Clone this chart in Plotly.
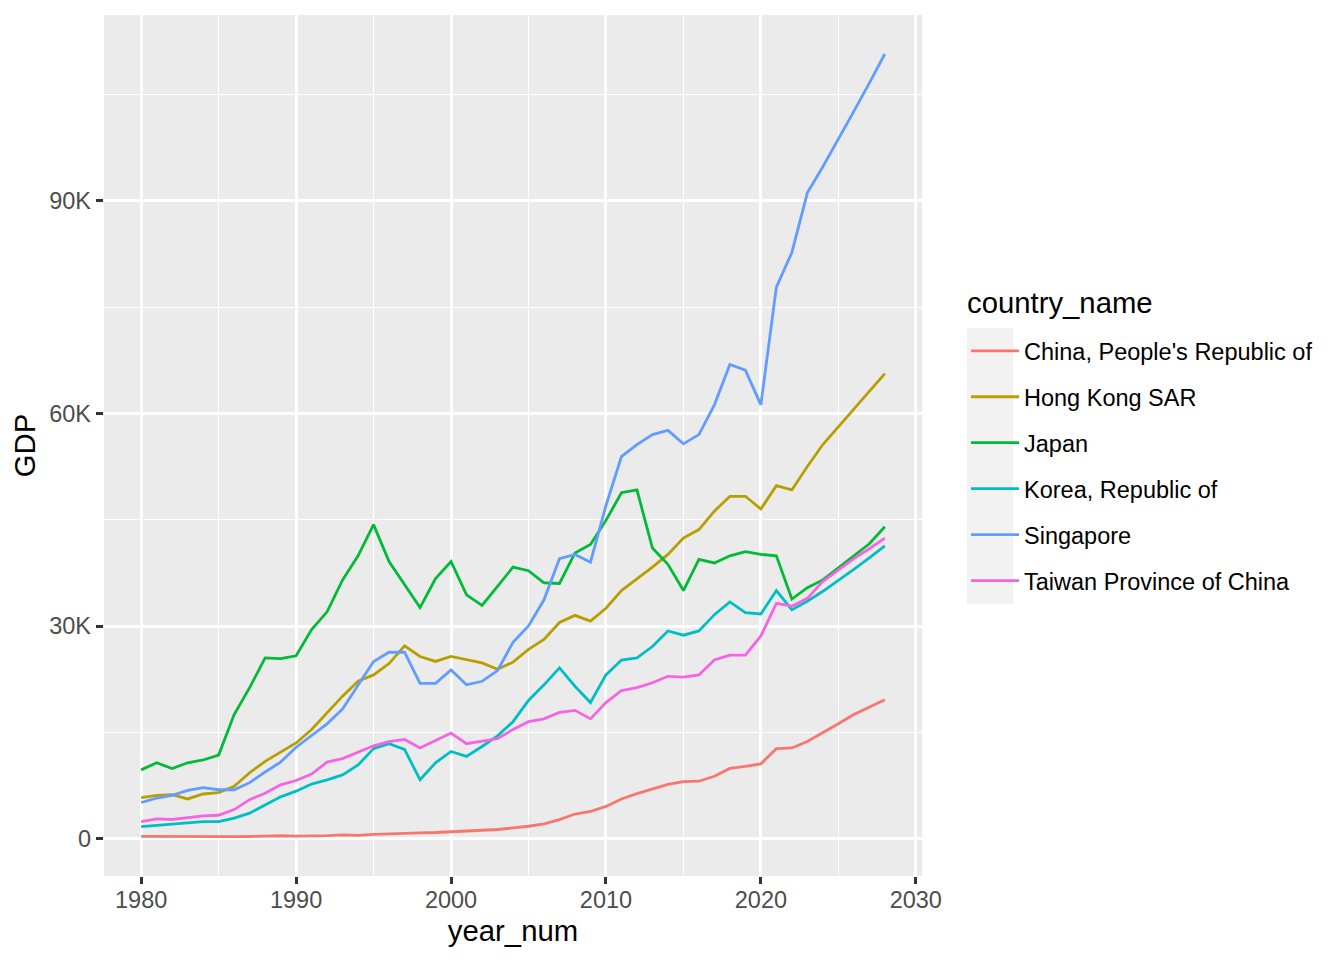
import plotly.graph_objects as go

# ---------------- data (GDP per capita, thousands USD) ----------------
years = list(range(1980, 2029))

countries = ["China, People's Republic of", "Hong Kong SAR", "Japan",
             "Korea, Republic of", "Singapore", "Taiwan Province of China"]

china = [0.31, 0.29, 0.28, 0.30, 0.31, 0.29, 0.28, 0.30, 0.37, 0.41,
         0.35, 0.36, 0.42, 0.52, 0.47, 0.61, 0.71, 0.78, 0.82, 0.87,
         0.96, 1.05, 1.15, 1.29, 1.51, 1.75, 2.10, 2.69, 3.47, 3.83,
         4.55, 5.6, 6.35, 7.05, 7.65, 8.05, 8.1, 8.8, 9.9, 10.2,
         10.55, 12.7, 12.8, 13.7, 14.9, 16.2, 17.5, 18.6, 19.6]
hong_kong = [5.8, 6.1, 6.2, 5.6, 6.3, 6.5, 7.4, 9.3, 10.9, 12.2,
             13.5, 15.4, 17.7, 20.1, 22.2, 23.1, 24.7, 27.2, 25.7, 25.0,
             25.7, 25.3, 24.8, 23.9, 24.9, 26.7, 28.1, 30.5, 31.5, 30.7,
             32.5, 35.0, 36.6, 38.3, 40.1, 42.4, 43.6, 46.2, 48.3, 48.3,
             46.5, 49.8, 49.2, 52.5, 55.6, 58.1, 60.6, 63.1, 65.6]
japan = [9.7, 10.7, 9.9, 10.7, 11.1, 11.8, 17.5, 21.3, 25.5, 25.4,
         25.8, 29.5, 32.0, 36.5, 39.9, 44.3, 39.1, 35.8, 32.6, 36.7,
         39.1, 34.4, 32.9, 35.6, 38.3, 37.8, 36.1, 36.0, 40.3, 41.5,
         44.9, 48.8, 49.2, 41.0, 38.7, 35.0, 39.4, 38.9, 39.9, 40.5,
         40.1, 39.9, 33.8, 35.4, 36.5, 38.2, 39.9, 41.6, 44.0]
korea = [1.7, 1.9, 2.0, 2.2, 2.4, 2.4, 2.9, 3.6, 4.8, 5.9,
         6.7, 7.7, 8.3, 9.0, 10.4, 12.7, 13.4, 12.6, 8.3, 10.7,
         12.3, 11.6, 13.0, 14.5, 16.5, 19.5, 21.7, 24.1, 21.5, 19.2,
         23.1, 25.2, 25.5, 27.1, 29.3, 28.7, 29.3, 31.6, 33.4, 31.9,
         31.7, 35.0, 32.3, 33.5, 34.9, 36.4, 38.0, 39.6, 41.3]
singapore = [5.1, 5.7, 6.1, 6.8, 7.2, 6.9, 6.9, 7.9, 9.4, 10.8,
             12.9, 14.5, 16.2, 18.3, 21.6, 25.0, 26.3, 26.3, 21.9, 21.9,
             23.8, 21.7, 22.2, 23.7, 27.7, 30.0, 33.7, 39.5, 40.1, 39.0,
             47.0, 53.9, 55.6, 57.0, 57.6, 55.7, 57.0, 61.2, 66.9, 66.1,
             61.2, 77.8, 82.7, 91.1, 94.8, 98.6, 102.6, 106.6, 110.7]
taiwan = [2.4, 2.8, 2.7, 3.0, 3.2, 3.3, 4.1, 5.5, 6.4, 7.6,
          8.2, 9.1, 10.8, 11.3, 12.2, 13.1, 13.7, 14.0, 12.8, 13.8,
          14.9, 13.4, 13.7, 14.1, 15.4, 16.5, 16.9, 17.8, 18.1, 16.9,
          19.2, 20.9, 21.3, 22.0, 22.9, 22.8, 23.1, 25.2, 25.9, 25.9,
          28.6, 33.2, 32.8, 33.9, 36.3, 37.9, 39.5, 40.9, 42.4]

series = [china, hong_kong, japan, korea, singapore, taiwan]
colors = ["#F8766D", "#B79F00", "#00BA38", "#00BFC4", "#619CFF", "#F564E3"]

x_tickvals = [1980, 1990, 2000, 2010, 2020, 2030]
y_tickvals = [0, 30, 60, 90]
y_ticktext = ["0", "30K", "60K", "90K"]

# ---------------- figure ----------------
FONT = "Liberation Sans, Arial, Helvetica, sans-serif"
BODY = 8                       # default page margin of the html body
W, H = 1344 - BODY, 960 - BODY
PX0, PX1, PY0, PY1 = 104, 922, 15, 876   # panel in page pixels
ML, MT = PX0 - BODY, PY0 - BODY
MR, MB = W - (PX1 - BODY), H - (PY1 - BODY)
pw, ph = PX1 - PX0, PY1 - PY0

def px_x(p):
    return (p - PX0) / pw

def px_y(p):
    return (PY1 - p) / ph

fig = go.Figure()
for i, (name, vals, col) in enumerate(zip(countries, series, colors)):
    fig.add_trace(go.Scatter(
        x=years, y=vals, mode="lines", name=name,
        legendgroup=f"g{i}",
        line=dict(color=col, width=2.8),
        hoverinfo="x+y+name",
    ))

fig.update_layout(
    width=W, height=H,
    margin=dict(l=ML, r=MR, t=MT, b=MB, autoexpand=False),
    paper_bgcolor="white",
    plot_bgcolor="#EBEBEB",
    font=dict(family=FONT, color="black"),
    showlegend=True,
    legend=dict(
        x=px_x(966), y=px_y(329), xanchor="left", yanchor="top",
        xref="paper", yref="paper",
        bgcolor="rgba(0,0,0,0)", borderwidth=0,
        font=dict(size=23.5, color="black", family=FONT),
        itemwidth=48,
        tracegroupgap=12.4,
        itemclick=False, itemdoubleclick=False,
    ),
    xaxis=dict(
        range=[1977.6, 2030.4],
        tickvals=x_tickvals,
        showgrid=True, gridcolor="white", gridwidth=2.85,
        zeroline=False, showline=False,
        ticks="outside", ticklen=7.3, tickwidth=2.85, tickcolor="#333333",
        ticklabelstandoff=-5,
        tickfont=dict(size=23.5, color="#4D4D4D", family=FONT),
        title=dict(text="year_num", font=dict(size=29.3, color="black", family=FONT), standoff=8),
        minor=dict(dtick=5, tick0=1975, showgrid=True, gridcolor="white", gridwidth=1.42, ticks=""),
        fixedrange=True,
    ),
    yaxis=dict(
        range=[-5.27, 116.2],
        tickvals=y_tickvals, ticktext=y_ticktext,
        showgrid=True, gridcolor="white", gridwidth=2.85,
        zeroline=False, showline=False,
        ticks="outside", ticklen=7.3, tickwidth=2.85, tickcolor="#333333",
        tickfont=dict(size=23.5, color="#4D4D4D", family=FONT),
        title=dict(text="GDP", font=dict(size=29.3, color="black", family=FONT), standoff=5),
        minor=dict(dtick=15, tick0=0, showgrid=True, gridcolor="white", gridwidth=1.42, ticks=""),
        fixedrange=True,
    ),
    shapes=[dict(
        type="rect", xref="paper", yref="paper", layer="below",
        x0=px_x(967), x1=px_x(1013), y0=px_y(604), y1=px_y(328),
        fillcolor="#F2F2F2", line=dict(width=0),
    )],
    annotations=[dict(
        text="country_name", xref="paper", yref="paper",
        x=px_x(965), y=px_y(302), xanchor="left", yanchor="middle",
        showarrow=False, font=dict(size=29.3, color="black", family=FONT),
    )],
)

fig.write_html("out.html")
